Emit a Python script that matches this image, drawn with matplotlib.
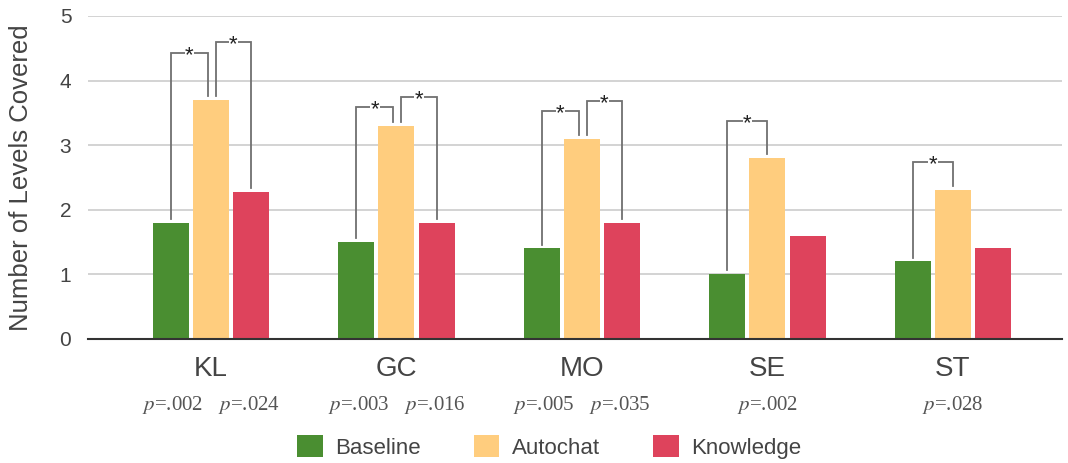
import matplotlib
matplotlib.use("Agg")
import matplotlib.pyplot as plt
import numpy as np

categories = ["KL", "GC", "MO", "SE", "ST"]
series_names = ["Baseline", "Autochat", "Knowledge"]
baseline = [1.8, 1.5, 1.4, 1.0, 1.2]
autochat = [3.7, 3.3, 3.1, 2.8, 2.3]
knowledge = [2.28, 1.8, 1.8, 1.6, 1.4]
# significance comparisons: (category index, series a, series b, bracket level, p label)
comparisons = [
    (0, 0, 1, 4.43, "p=.002"),
    (0, 1, 2, 4.59, "p=.024"),
    (1, 0, 1, 3.59, "p=.003"),
    (1, 1, 2, 3.75, "p=.016"),
    (2, 0, 1, 3.53, "p=.005"),
    (2, 1, 2, 3.68, "p=.035"),
    (3, 0, 1, 3.37, "p=.002"),
    (4, 0, 1, 2.74, "p=.028"),
]
yticks = [0, 1, 2, 3, 4, 5]

colors = ["#4a8e31", "#ffcd7e", "#de435c"]
text_color = "#444444"
plt.rcParams["font.family"] = ["Liberation Sans", "DejaVu Sans"]
plt.rcParams["mathtext.fontset"] = "stix"

fig = plt.figure(figsize=(10.68, 4.63), dpi=100)
ax = fig.add_axes([0.0824, 0.268, 0.912, 0.6976])

data = [baseline, autochat, knowledge]
x = np.arange(len(categories))
width = 0.194
step = 0.216
for i, (vals, c, name) in enumerate(zip(data, colors, series_names)):
    ax.bar(x + (i - 1) * step, vals, width, color=c, label=name, zorder=3)

ax.set_ylim(0, 5)
ax.set_xlim(-0.663, 4.588)
ax.set_yticks(yticks)
ax.set_yticklabels([str(t) for t in yticks], fontsize=15, color=text_color)
ax.yaxis.grid(True, color="#cccccc", linewidth=1.2, zorder=0)
ax.tick_params(axis="y", length=0, pad=12)
ax.tick_params(axis="x", length=0, pad=12)
ax.set_xticks(x)
ax.set_xticklabels(categories, fontsize=20, color=text_color)
for s in ["top", "right", "left"]:
    ax.spines[s].set_visible(False)
ax.spines["bottom"].set_color("#333333")
ax.spines["bottom"].set_linewidth(1.5)
ax.spines["bottom"].set_zorder(4)
ax.set_ylabel("Number of Levels Covered", fontsize=18.5, color=text_color, labelpad=19)

gap = 0.06
count_per_cat = {}
for ci, a, b, *_ in comparisons:
    count_per_cat[ci] = count_per_cat.get(ci, 0) + 1

for ci, a, b, level, plabel in comparisons:
    xa = ci + (a - 1) * step
    xb = ci + (b - 1) * step
    if count_per_cat[ci] > 1:
        if b == 1:
            xb -= 0.018
        if a == 1:
            xa += 0.025
    ya = data[a][ci] + gap
    yb = data[b][ci] + gap
    ax.plot([xa, xa, xb, xb], [ya, level, level, yb], color="#707070", lw=1.3,
            zorder=5, solid_joinstyle="miter")
    ax.text((xa + xb) / 2, level - 0.04, "*", ha="center", va="center", fontsize=16,
            color="#222222", zorder=6,
            bbox=dict(facecolor="white", edgecolor="none", pad=0.3))
    if count_per_cat[ci] > 1:
        px = ci + (-1 if b == 1 else 1) * 0.205
    else:
        px = ci
    lbl = r"$p$" + plabel[1:]
    ax.text(px, -1.02, lbl, ha="center", va="center", fontsize=15,
            color="#555555", family=["Liberation Serif", "DejaVu Serif"],
            transform=ax.transData, clip_on=False)

handles, labels = ax.get_legend_handles_labels()
leg = fig.legend(handles, labels, loc="center", bbox_to_anchor=(0.514, 0.035),
                 ncol=3, frameon=False, fontsize=16, handlelength=1.15,
                 handleheight=1.15, handletextpad=0.55, columnspacing=2.4,
                 labelcolor=text_color)

fig.savefig("out.png", dpi=100)
